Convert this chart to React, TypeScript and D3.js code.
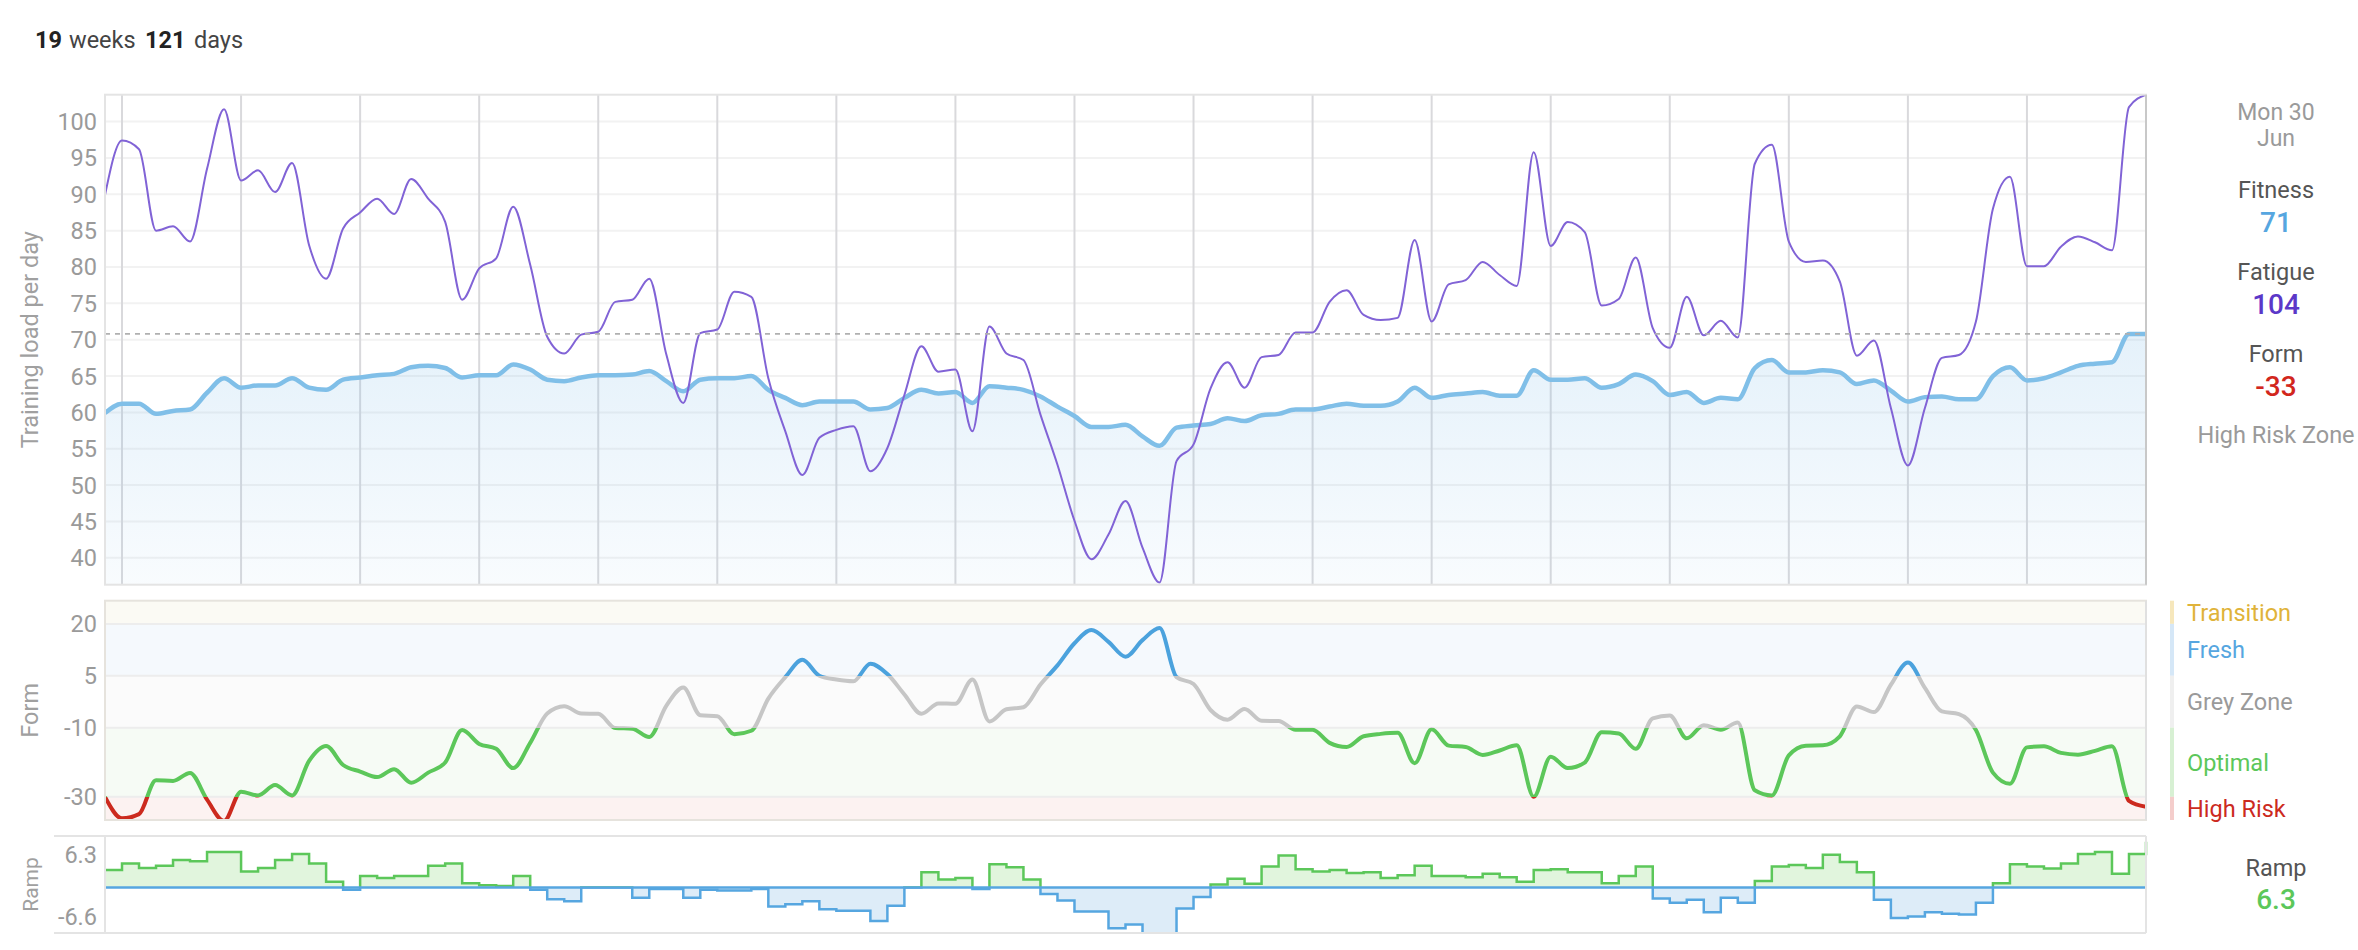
import React from "react";
import * as d3 from "d3";

// ---------- data ----------
const startDay = Date.UTC(2025, 2, 2); // Sun 2 Mar 2025 .. Mon 30 Jun 2025
const fitness = [
  59.9, 61.2, 61.2, 59.8, 60.2, 60.4, 62.7, 64.7, 63.4, 63.7,
  63.7, 64.7, 63.4, 63.1, 64.5, 64.8, 65.1, 65.3, 66.2, 66.4,
  66.1, 64.8, 65.1, 65.1, 66.6, 65.9, 64.5, 64.3, 64.8, 65.1,
  65.1, 65.2, 65.7, 64.3, 62.9, 64.5, 64.7, 64.7, 65.0, 63.1,
  62.0, 61.0, 61.5, 61.5, 61.5, 60.4, 60.6, 62.0, 63.1, 62.6,
  62.8, 61.3, 63.6, 63.4, 63.1, 62.2, 60.8, 59.5, 58.0, 58.0,
  58.3, 56.7, 55.4, 57.9, 58.2, 58.4, 59.2, 58.8, 59.6, 59.8,
  60.4, 60.4, 60.8, 61.2, 60.9, 60.9, 61.5, 63.4, 62.0, 62.4,
  62.6, 62.8, 62.3, 62.3, 65.8, 64.5, 64.5, 64.7, 63.4, 63.9,
  65.2, 64.3, 62.4, 62.8, 61.3, 62.0, 61.8, 66.1, 67.2, 65.5,
  65.5, 65.8, 65.5, 63.9, 64.4, 63.0, 61.5, 62.1, 62.2, 61.8,
  61.8, 65.0, 66.2, 64.4, 64.7, 65.5, 66.4, 66.7, 66.9, 70.8,
  70.8,
];
const fatigue = [
  89.9, 97.4, 96.2, 85.0, 85.6, 83.5, 93.5, 101.7, 91.9, 93.3,
  90.3, 94.3, 83.0, 78.4, 85.3, 87.5, 89.4, 87.3, 92.1, 89.4,
  86.2, 75.5, 79.8, 81.2, 88.3, 80.3, 70.4, 68.1, 70.7, 71.1,
  75.2, 75.5, 78.4, 68.0, 61.3, 70.9, 71.4, 76.6, 75.9, 64.7,
  57.4, 51.4, 56.5, 57.6, 58.1, 51.9, 55.1, 62.4, 69.1, 65.6,
  65.9, 57.4, 71.8, 68.1, 67.2, 59.7, 52.8, 45.1, 39.8, 43.2,
  47.8, 41.4, 36.6, 53.3, 55.6, 63.3, 66.9, 63.4, 67.6, 67.9,
  71.0, 71.0, 75.2, 76.8, 73.4, 72.7, 73.0, 83.7, 72.5, 77.6,
  78.2, 80.7, 78.9, 77.4, 95.8, 82.9, 86.2, 84.8, 74.7, 75.6,
  81.3, 71.6, 68.9, 75.9, 70.6, 72.6, 70.3, 94.2, 96.8, 83.5,
  80.7, 80.9, 78.0, 67.8, 69.9, 60.6, 52.7, 60.6, 67.5, 67.9,
  72.5, 88.0, 92.4, 80.1, 80.1, 82.8, 84.2, 83.4, 82.3, 102.0,
  103.7,
];
const form = [
  -30.0, -36.2, -35.0, -25.2, -25.4, -23.1, -30.8, -37.0, -28.5, -29.6,
  -26.6, -29.6, -19.6, -15.3, -20.8, -22.7, -24.3, -22.0, -25.9, -23.0,
  -20.1, -10.7, -14.7, -16.1, -21.7, -14.4, -5.9, -3.8, -5.9, -6.0,
  -10.1, -10.3, -12.7, -3.7, 1.6, -6.4, -6.7, -11.9, -10.9, -1.6,
  4.6, 9.6, 5.0, 3.9, 3.4, 8.5, 5.5, -0.4, -6.0, -3.0,
  -3.1, 3.9, -8.2, -4.7, -4.1, 2.5, 8.0, 14.4, 18.2, 14.8,
  10.5, 15.3, 18.8, 4.6, 2.6, -4.9, -7.7, -4.6, -8.0, -8.1,
  -10.6, -10.6, -14.4, -15.6, -12.5, -11.8, -11.5, -20.3, -10.5, -15.2,
  -15.6, -17.9, -16.6, -15.1, -30.0, -18.4, -21.7, -20.1, -11.3, -11.7,
  -16.1, -7.3, -6.5, -13.1, -9.3, -10.6, -8.5, -28.1, -29.6, -18.0,
  -15.2, -15.1, -12.5, -3.9, -5.5, 2.4, 8.8, 1.5, -5.3, -6.1,
  -10.7, -23.0, -26.2, -15.7, -15.4, -17.3, -17.8, -16.7, -15.4, -31.2,
  -32.9,
];
// weekly fitness change (ramp) per day
const ramp = [
  2.4, 3.3, 2.7, 3.0, 3.8, 3.6, 4.9, 4.9, 2.2, 2.7,
  3.8, 4.6, 3.3, 0.8, -0.3, 1.6, 1.3, 1.6, 1.6, 3.0,
  3.3, 0.6, 0.3, 0.2, 1.6, -0.3, -1.6, -1.9, 0.0, 0.0,
  0.0, -1.4, -0.2, -0.2, -1.4, -0.3, -0.4, -0.4, -0.2, -2.6,
  -2.3, -1.9, -3.0, -3.2, -3.2, -4.6, -2.5, 0.0, 2.1, 1.1,
  1.3, -0.2, 3.2, 2.8, 1.1, -0.9, -1.8, -3.3, -3.3, -5.6,
  -5.1, -6.4, -6.6, -2.9, -1.3, 0.4, 1.2, 0.5, 2.9, 4.4,
  2.5, 2.2, 2.4, 2.0, 2.1, 1.3, 1.7, 3.0, 1.6, 1.6,
  1.4, 1.9, 1.4, 0.8, 2.4, 2.5, 2.1, 2.1, 0.6, 1.6,
  2.9, -1.5, -2.1, -1.7, -3.4, -1.4, -2.1, 0.9, 2.9, 3.1,
  2.7, 4.5, 3.5, 2.1, -1.7, -4.2, -4.0, -3.4, -3.6, -3.7,
  -2.1, 0.6, 3.2, 2.9, 2.6, 3.3, 4.6, 4.9, 1.9, 4.6,
  6.3,
];
const loadTicks = [40, 45, 50, 55, 60, 65, 70, 75, 80, 85, 90, 95, 100];
const formTicks = [20, 5, -10, -30];
const rampTicks = [6.3, -6.6];
const zoneNames = ["Transition", "Fresh", "Grey Zone", "Optimal", "High Risk"];
const zoneBounds = [26.7, 20, 5, -10, -30, -36.7];
const zoneBg = ["#fbfaf4", "#f5f9fd", "#fbfbfb", "#f6fbf5", "#fcf2f1"];
const zoneBar = ["#f6e7bc", "#d5e7f7", "#efefef", "#d7f0d3", "#f4cdcb"];
const zoneText = ["#e0b33a", "#56a6e0", "#9a9a9a", "#5cc75a", "#cc2a1e"];
const zoneLine = ["#e6b93a", "#4ba2dd", "#c6c6c6", "#5cc75a", "#cc2a1e"];

// ---------- layout ----------
const L = 105;
const R = 2146;
const mainTop = 94.7;
const mainBot = 584.7;
const formTop = 600.7;
const formBot = 820;
const rampTop = 836;
const rampBot = 933;

const FONT = "Roboto, 'Noto Sans', sans-serif";

export default function App() {
  const dates = fitness.map((_, i) => new Date(startDay + i * 86400000));
  const x = d3
    .scaleUtc()
    .domain([dates[0], dates[dates.length - 1]])
    .range([L, R]);
  const y = d3.scaleLinear().domain([36.3, 103.7]).range([mainBot, mainTop]);
  const fy = d3.scaleLinear().domain([-36.7, 26.7]).range([formBot, formTop]);
  const ry = d3
    .scaleLinear()
    .domain([d3.min(ramp) as number, d3.max(ramp) as number])
    .range([935.5, 841.7]);

  const mondays = d3.utcMonday.range(dates[0], dates[dates.length - 1]);

  const lineF = d3
    .line<number>()
    .x((_, i) => x(dates[i]))
    .y((d) => y(d))
    .curve(d3.curveMonotoneX);
  const areaF = d3
    .area<number>()
    .x((_, i) => x(dates[i]))
    .y0(mainBot)
    .y1((d) => y(d))
    .curve(d3.curveMonotoneX);
  const lineForm = d3
    .line<number>()
    .x((_, i) => x(dates[i]))
    .y((d) => fy(d))
    .curve(d3.curveMonotoneX);
  const zeroY = ry(0);
  const rampArea = d3
    .area<number>()
    .x((_, i) => x(dates[i]))
    .y0(zeroY)
    .y1((d) => ry(d))
    .curve(d3.curveStepAfter);
  const rampLine = d3
    .line<number>()
    .x((_, i) => x(dates[i]))
    .y((d) => ry(d))
    .curve(d3.curveStepAfter);

  const gTop = fy(zoneBounds[0]);
  const gBot = fy(zoneBounds[zoneBounds.length - 1]);
  const stops: { off: number; color: string }[] = [];
  zoneLine.forEach((c, i) => {
    const a = (fy(zoneBounds[i]) - gTop) / (gBot - gTop);
    const b = (fy(zoneBounds[i + 1]) - gTop) / (gBot - gTop);
    stops.push({ off: a, color: c }, { off: b, color: c });
  });

  const lastFit = fitness[fitness.length - 1];
  const cx = 2276;
  const rampLabelY = [rampTop + 19, rampBot - 16];

  return (
    <div style={{ position: "absolute", left: 0, top: 0 }}>
      <svg width={2358} height={950} style={{ display: "block", fontFamily: FONT }}>
        <defs>
          <linearGradient id="fitFill" gradientUnits="userSpaceOnUse" x1="0" x2="0" y1={y(70)} y2={mainBot}>
            <stop offset="0" stopColor="#7dbbe8" stopOpacity="0.2" />
            <stop offset="1" stopColor="#7dbbe8" stopOpacity="0.05" />
          </linearGradient>
          <linearGradient id="formGrad" gradientUnits="userSpaceOnUse" x1="0" x2="0" y1={gTop} y2={gBot}>
            {stops.map((s, i) => (
              <stop key={i} offset={s.off} stopColor={s.color} />
            ))}
          </linearGradient>
          <clipPath id="mainClip">
            <rect x={L} y={mainTop} width={R - L} height={mainBot - mainTop} />
          </clipPath>
          <clipPath id="formClip">
            <rect x={L} y={formTop} width={R - L} height={formBot - formTop} />
          </clipPath>
          <clipPath id="rampPos">
            <rect x={L - 2} y={rampTop} width={R - L + 4} height={zeroY - rampTop} />
          </clipPath>
          <clipPath id="rampNeg">
            <rect x={L - 2} y={zeroY} width={R - L + 4} height={rampBot - zeroY} />
          </clipPath>
        </defs>

        {/* title */}
        <text y={48.3} fontSize={23.5}>
          <tspan x={35} fontWeight={700} fill="#222">19</tspan>
          <tspan x={69} fill="#444">weeks</tspan>
          <tspan x={145} fontWeight={700} fill="#222">121</tspan>
          <tspan x={194} fill="#444">days</tspan>
        </text>

        {/* ---------- main chart ---------- */}
        {loadTicks.map((t) => (
          <line key={t} x1={L} x2={R} y1={y(t)} y2={y(t)} stroke="#f2f2f2" strokeWidth={2} />
        ))}
        {mondays.map((m) => (
          <line key={+m} x1={x(m)} x2={x(m)} y1={mainTop} y2={mainBot} stroke="#d9d9dc" strokeWidth={2} />
        ))}
        <g clipPath="url(#mainClip)">
          <path d={areaF(fitness) || ""} fill="url(#fitFill)" />
          <path d={lineF(fitness) || ""} fill="none" stroke="#80bfe8" strokeWidth={4.5} strokeLinejoin="round" />
          <path d={lineF(fatigue) || ""} fill="none" stroke="#8163d6" strokeWidth={2} strokeLinejoin="round" />
        </g>
        <line x1={L} x2={R} y1={y(lastFit)} y2={y(lastFit)} stroke="#b0b0b0" strokeWidth={1.6} strokeDasharray="5 5" />
        <rect x={L} y={mainTop} width={R - L} height={mainBot - mainTop} fill="none" stroke="#e4e4e4" strokeWidth={2} />
        <line x1={R} x2={R} y1={mainTop} y2={mainBot} stroke="#c8c8c8" strokeWidth={2} />
        {loadTicks.map((t) => (
          <text key={t} x={97} y={y(t)} dy="0.36em" textAnchor="end" fontSize={23.5} fill="#9a9a9a">
            {t}
          </text>
        ))}
        <text transform={`translate(38,${(mainTop + mainBot) / 2}) rotate(-90)`} textAnchor="middle" fontSize={23.5} fill="#a0a0a0">
          Training load per day
        </text>

        {/* ---------- form chart ---------- */}
        {zoneNames.map((z, i) => (
          <rect key={z} x={L} y={fy(zoneBounds[i])} width={R - L} height={fy(zoneBounds[i + 1]) - fy(zoneBounds[i])} fill={zoneBg[i]} />
        ))}
        {formTicks.map((t) => (
          <line key={t} x1={L} x2={R} y1={fy(t)} y2={fy(t)} stroke="#ededed" strokeWidth={2} />
        ))}
        <g clipPath="url(#formClip)">
          <path d={lineForm(form) || ""} fill="none" stroke="url(#formGrad)" strokeWidth={4} strokeLinejoin="round" />
        </g>
        <rect x={L} y={formTop} width={R - L} height={formBot - formTop} fill="none" stroke="#e6e3dd" strokeWidth={2} />
        <line x1={R} x2={R} y1={formTop} y2={formBot} stroke="#e0e0e0" strokeWidth={2} />
        {formTicks.map((t) => (
          <text key={t} x={97} y={fy(t)} dy="0.36em" textAnchor="end" fontSize={23.5} fill="#9a9a9a">
            {t}
          </text>
        ))}
        <text transform={`translate(38,${(formTop + formBot) / 2}) rotate(-90)`} textAnchor="middle" fontSize={23.5} fill="#a0a0a0">
          Form
        </text>

        {/* ---------- ramp chart ---------- */}
        <g clipPath="url(#rampPos)">
          <path d={rampArea(ramp) || ""} fill="#e1f5dd" />
          <path d={rampLine(ramp) || ""} fill="none" stroke="#5cc75a" strokeWidth={2.5} />
        </g>
        <g clipPath="url(#rampNeg)">
          <path d={rampArea(ramp) || ""} fill="#ddecf8" />
          <path d={rampLine(ramp) || ""} fill="none" stroke="#56a6e0" strokeWidth={2.5} />
        </g>
        <line x1={L} x2={R} y1={zeroY} y2={zeroY} stroke="#56a6e0" strokeWidth={2.5} />
        <line x1={54} x2={R} y1={rampTop} y2={rampTop} stroke="#e4e4e4" strokeWidth={2} />
        <line x1={54} x2={R} y1={rampBot} y2={rampBot} stroke="#e4e4e4" strokeWidth={2} />
        <line x1={L} x2={L} y1={rampTop} y2={rampBot} stroke="#e4e4e4" strokeWidth={2} />
        <line x1={R} x2={R} y1={rampTop} y2={rampBot} stroke="#e4e4e4" strokeWidth={2} />
        {rampTicks.map((t, i) => (
          <text key={t} x={97} y={rampLabelY[i]} dy="0.36em" textAnchor="end" fontSize={23.5} fill="#9a9a9a">
            {t}
          </text>
        ))}
        <text transform={`translate(38,${(rampTop + rampBot) / 2}) rotate(-90)`} textAnchor="middle" fontSize={21} fill="#a0a0a0">
          Ramp
        </text>

        {/* ---------- right panel ---------- */}
        <g textAnchor="middle">
          <text x={cx} y={120} fontSize={23} fill="#9a9a9a">Mon 30</text>
          <text x={cx} y={145.5} fontSize={23} fill="#9a9a9a">Jun</text>
          <text x={cx} y={198.3} fontSize={23.5} fill="#555">Fitness</text>
          <text x={cx} y={231.7} fontSize={28} fontWeight={500} fill="#56a6e0">{Math.round(lastFit)}</text>
          <text x={cx} y={280} fontSize={23.5} fill="#555">Fatigue</text>
          <text x={cx} y={314.3} fontSize={28} fontWeight={500} fill="#5b38c8">{Math.round(fatigue[fatigue.length - 1])}</text>
          <text x={cx} y={361.7} fontSize={23.5} fill="#555">Form</text>
          <text x={cx} y={396} fontSize={28} fontWeight={500} fill="#d2271d">{Math.round(form[form.length - 1])}</text>
          <text x={cx} y={443.3} fontSize={23.5} fill="#9a9a9a">High Risk Zone</text>
          <text x={cx} y={876} fontSize={23.5} fill="#555">Ramp</text>
          <text x={cx} y={909.3} fontSize={28} fontWeight={500} fill="#5cc75a">{ramp[ramp.length - 1]}</text>
        </g>
        {zoneNames.map((z, i) => {
          const a = fy(zoneBounds[i]);
          const b = fy(zoneBounds[i + 1]);
          return (
            <g key={z}>
              <rect x={2170} y={a} width={4} height={b - a} fill={zoneBar[i]} />
              <text x={2187} y={(a + b) / 2} dy="0.36em" fontSize={23.5} fill={zoneText[i]}>
                {z}
              </text>
            </g>
          );
        })}
      </svg>
    </div>
  );
}
